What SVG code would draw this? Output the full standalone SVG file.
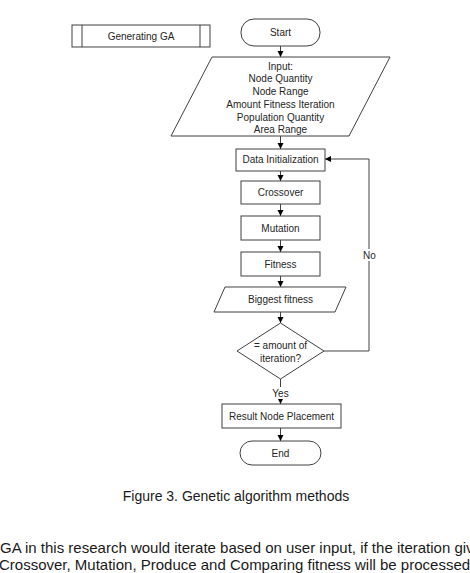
<svg xmlns="http://www.w3.org/2000/svg" width="470" height="573" viewBox="0 0 470 573">
<style>
.s{fill:#fff;stroke:#404040;stroke-width:1}
.t{font-family:"Liberation Sans",Arial,sans-serif;font-size:10px;fill:#262626;text-anchor:middle}
.c{fill:none;stroke:#404040;stroke-width:1}
.cap{font-family:"Liberation Sans",Arial,sans-serif;font-size:14px;fill:#1a1a1a}
.p{font-family:"Liberation Sans",Arial,sans-serif;font-size:15px;fill:#1a1a1a}
</style>
<defs>
<marker id="ah" markerUnits="userSpaceOnUse" markerWidth="7" markerHeight="7" refX="6" refY="3" orient="auto">
<path d="M0,0 L6,3 L0,6 Z" fill="#000"/>
</marker>
</defs>
<rect width="470" height="573" fill="#fff"/>
<g id="connectors">
<line class="c" x1="280.5" y1="46" x2="280.5" y2="57" marker-end="url(#ah)"/>
<line class="c" x1="280.5" y1="136" x2="280.5" y2="149" marker-end="url(#ah)"/>
<line class="c" x1="280.5" y1="171" x2="280.5" y2="181" marker-end="url(#ah)"/>
<line class="c" x1="280.5" y1="204" x2="280.5" y2="216" marker-end="url(#ah)"/>
<line class="c" x1="280.5" y1="240" x2="280.5" y2="252" marker-end="url(#ah)"/>
<line class="c" x1="280.5" y1="276" x2="280.5" y2="287" marker-end="url(#ah)"/>
<line class="c" x1="280.5" y1="312" x2="280.5" y2="323" marker-end="url(#ah)"/>
<line class="c" x1="280.5" y1="379" x2="280.5" y2="404" marker-end="url(#ah)"/>
<line class="c" x1="280.5" y1="428" x2="280.5" y2="441" marker-end="url(#ah)"/>
<polyline class="c" points="324,351 369,351 369,159 325,159" marker-end="url(#ah)"/>
<rect x="270" y="387" width="21" height="12" fill="#fff"/>
<text class="t" x="280.5" y="396.5">Yes</text>
<rect x="360" y="249" width="18" height="12" fill="#fff"/>
<text class="t" x="369.5" y="258.5">No</text>
</g>
<g id="generating-ga">
<rect class="s" x="72" y="25" width="138" height="22"/>
<line class="c" x1="82" y1="25" x2="82" y2="47"/>
<line class="c" x1="200" y1="25" x2="200" y2="47"/>
<text class="t" x="141" y="39.5">Generating GA</text>
</g>
<g id="start">
<rect class="s" x="241" y="19" width="79" height="27" rx="13" ry="13"/>
<text class="t" x="280.5" y="36">Start</text>
</g>
<g id="input">
<polygon class="s" points="212,57 390,57 349,136 171,136"/>
<text class="t" x="280.5" y="69.5">Input:</text>
<text class="t" x="280.5" y="82">Node Quantity</text>
<text class="t" x="280.5" y="94.5">Node Range</text>
<text class="t" x="280.5" y="107.5">Amount Fitness Iteration</text>
<text class="t" x="280.5" y="120.5">Population Quantity</text>
<text class="t" x="280.5" y="133">Area Range</text>
</g>
<g id="data-init">
<rect class="s" x="236" y="149" width="89" height="22"/>
<text class="t" x="280.5" y="163">Data Initialization</text>
</g>
<g id="crossover">
<rect class="s" x="241" y="181" width="79" height="23"/>
<text class="t" x="280.5" y="196">Crossover</text>
</g>
<g id="mutation">
<rect class="s" x="241" y="216" width="79" height="24"/>
<text class="t" x="280.5" y="231.5">Mutation</text>
</g>
<g id="fitness">
<rect class="s" x="241" y="252" width="79" height="24"/>
<text class="t" x="280.5" y="267.5">Fitness</text>
</g>
<g id="biggest-fitness">
<polygon class="s" points="225,287 346,287 335,312 214,312"/>
<text class="t" x="280.5" y="303">Biggest fitness</text>
</g>
<g id="decision">
<polygon class="s" points="280.5,323 324,351 280.5,379 237,351"/>
<text class="t" x="280.5" y="348.5">= amount of</text>
<text class="t" x="280.5" y="361.5">iteration?</text>
</g>
<g id="result">
<rect class="s" x="222" y="404" width="119" height="24"/>
<text class="t" x="281.5" y="419.5">Result Node Placement</text>
</g>
<g id="end">
<rect class="s" x="240" y="441" width="81" height="24" rx="12" ry="12"/>
<text class="t" x="280.5" y="456.5">End</text>
</g>
<text class="cap" x="236" y="501" text-anchor="middle">Figure 3. Genetic algorithm methods</text>
<text class="p" x="0" y="553">GA in this research would iterate based on user input, if the iteration giv</text>
<text class="p" x="-1" y="570">Crossover, Mutation, Produce and Comparing fitness will be processed</text>
</svg>
